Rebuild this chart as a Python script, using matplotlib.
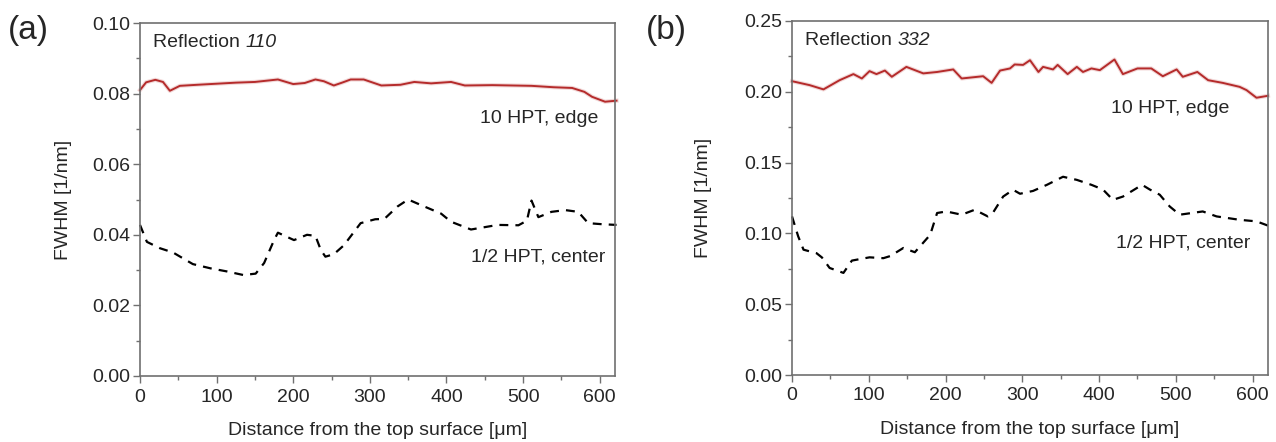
import matplotlib
matplotlib.use("Agg")
import matplotlib.pyplot as plt
from matplotlib.ticker import MultipleLocator, FormatStrFormatter

plt.rcParams['font.family'] = ['Liberation Sans', 'DejaVu Sans']

# Reflection 110
a_edge_x = [0, 8, 20, 30, 39, 52, 75, 100, 125, 150, 180, 200, 215, 229, 240, 253, 265, 275, 292,
            315, 340, 358, 380, 406, 424, 460, 511, 540, 564, 580, 590, 607, 622]
a_edge_y = [0.0810, 0.0832, 0.0839, 0.0833, 0.0808, 0.0822, 0.0825, 0.0828, 0.0831, 0.0833, 0.0840,
            0.0827, 0.0830, 0.0840, 0.0835, 0.0823, 0.0832, 0.0840, 0.0840, 0.0823, 0.0825, 0.0833,
            0.0829, 0.0833, 0.0823, 0.0824, 0.0822, 0.0818, 0.0816, 0.0805, 0.0791, 0.0777, 0.0780]
a_ctr_x = [0, 9, 26, 43, 69, 92, 114, 135, 151, 162, 175, 180, 201, 218, 229, 236, 242, 253, 266, 288,
           307, 319, 336, 350, 367, 393, 406, 432, 467, 494, 505, 511, 520, 537, 555, 572, 585, 603, 622]
a_ctr_y = [0.0428, 0.0380, 0.0362, 0.0350, 0.0317, 0.0305, 0.0296, 0.0286, 0.0290, 0.0320, 0.0385,
           0.0406, 0.0385, 0.0400, 0.0397, 0.0357, 0.0338, 0.0345, 0.0370, 0.0433, 0.0444, 0.0445,
           0.0480, 0.0500, 0.0484, 0.0460, 0.0437, 0.0415, 0.0428, 0.0427, 0.0440, 0.0497, 0.0450,
           0.0465, 0.0470, 0.0465, 0.0433, 0.0430, 0.0428]

# Reflection 332
b_edge_x = [0, 23, 41, 62, 80, 91, 101, 110, 121, 130, 149, 171, 189, 210, 221, 249, 260, 271, 284,
            290, 301, 310, 321, 327, 340, 346, 359, 371, 379, 390, 401, 420, 431, 450, 468, 483, 501,
            509, 528, 542, 561, 583, 592, 605, 620]
b_edge_y = [0.2075, 0.2047, 0.2017, 0.2082, 0.2125, 0.2094, 0.2146, 0.2125, 0.2150, 0.2106, 0.2176,
            0.2130, 0.2140, 0.2158, 0.2094, 0.2110, 0.2063, 0.2150, 0.2165, 0.2193, 0.2190, 0.2223,
            0.2140, 0.2176, 0.2158, 0.2190, 0.2125, 0.2176, 0.2140, 0.2165, 0.2153, 0.2228, 0.2125,
            0.2165, 0.2165, 0.2110, 0.2158, 0.2106, 0.2140, 0.2082, 0.2063, 0.2035, 0.2012, 0.1958,
            0.1972]
b_ctr_x = [0, 8, 15, 32, 39, 49, 67, 78, 101, 119, 128, 145, 160, 180, 189, 201, 221, 238, 255, 262,
           275, 288, 297, 314, 332, 353, 371, 390, 405, 418, 431, 456, 466, 479, 492, 505, 535, 553,
           583, 605, 620]
b_ctr_y = [0.1120, 0.0980, 0.0885, 0.0860, 0.0830, 0.0756, 0.0721, 0.0808, 0.0831, 0.0825, 0.0840,
           0.0897, 0.0867, 0.0990, 0.1144, 0.1155, 0.1132, 0.1167, 0.1120, 0.1148, 0.1260, 0.1308,
           0.1280, 0.1300, 0.1343, 0.1400, 0.1378, 0.1343, 0.1310, 0.1237, 0.1260, 0.1343, 0.1310,
           0.1273, 0.1190, 0.1132, 0.1155, 0.1120, 0.1096, 0.1085, 0.1055]

W, H = 1276, 442
fig = plt.figure(figsize=(W / 100, H / 100), dpi=100)

def box(l, r, t, b):
    return [l / W, 1 - b / H, (r - l) / W, (b - t) / H]

ax1 = fig.add_axes(box(140, 615, 23, 376))
ax2 = fig.add_axes(box(792, 1268, 21, 375))

red = '#b52b2b'
spine_c = '#707070'
txt_c = '#262626'
FS = 14

def style(ax, ymax, ymaj, ymin, ylab_x):
    ax.set_xlim(0, 620)
    ax.set_ylim(0, ymax)
    ax.xaxis.set_major_locator(MultipleLocator(100))
    ax.xaxis.set_minor_locator(MultipleLocator(50))
    ax.yaxis.set_major_locator(MultipleLocator(ymaj))
    ax.yaxis.set_minor_locator(MultipleLocator(ymin))
    ax.yaxis.set_major_formatter(FormatStrFormatter('%.2f'))
    for s in ax.spines.values():
        s.set_color(spine_c)
        s.set_linewidth(1.2)
    ax.tick_params(which='both', direction='out', colors=spine_c, labelcolor=txt_c,
                   labelsize=FS, width=1.0)
    ax.tick_params(which='major', length=5)
    ax.tick_params(which='minor', length=3)
    ax.tick_params(axis='x', pad=4)
    ax.tick_params(axis='y', pad=2)
    ax.set_xlabel('Distance from the top surface [\u03bcm]', fontsize=FS, color=txt_c)
    ax.set_ylabel('FWHM [1/nm]', fontsize=FS, color=txt_c)
    ax.xaxis.label.set_va('center')
    ax.yaxis.label.set_va('center')
    ax.xaxis.set_label_coords(0.5, -0.154)
    ax.yaxis.set_label_coords(ylab_x, 0.5)

style(ax1, 0.10, 0.02, 0.01, -0.162)
style(ax2, 0.25, 0.05, 0.025, -0.185)

for ax, ex, ey, cx, cy in [(ax1, a_edge_x, a_edge_y, a_ctr_x, a_ctr_y),
                           (ax2, b_edge_x, b_edge_y, b_ctr_x, b_ctr_y)]:
    ax.plot(ex, ey, color=red, lw=3.0, alpha=0.18, solid_joinstyle='round', clip_on=False)
    ax.plot(ex, ey, color=red, lw=1.4, solid_joinstyle='round', clip_on=False)
    ax.plot(cx, cy, color='black', lw=1.6, dashes=(4, 3.2), clip_on=False)

for ax, refl in [(ax1, '110'), (ax2, '332')]:
    t = ax.text(0.027, 0.945, 'Reflection ', transform=ax.transAxes, fontsize=FS,
                color=txt_c, va='center')
    ax.annotate(refl, xycoords=t, xy=(1, 0.5), va='center', fontsize=FS, color=txt_c,
                style='italic')

ax1.text(598, 0.0729, '10 HPT, edge', fontsize=FS, color=txt_c, ha='right', va='center')
ax1.text(607, 0.0337, '1/2 HPT, center', fontsize=FS, color=txt_c, ha='right', va='center')
ax2.text(570, 0.1885, '10 HPT, edge', fontsize=FS, color=txt_c, ha='right', va='center')
ax2.text(597, 0.0935, '1/2 HPT, center', fontsize=FS, color=txt_c, ha='right', va='center')

fig.text(8 / W, 1 - 30 / H, '(a)', fontsize=24, color=txt_c, va='center')
fig.text(646 / W, 1 - 30 / H, '(b)', fontsize=24, color=txt_c, va='center')

fig.savefig('out.png', dpi=100, facecolor='white')
